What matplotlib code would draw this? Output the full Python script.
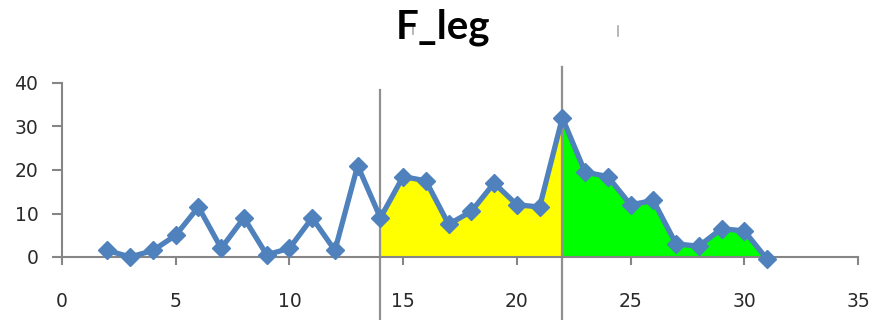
import matplotlib.pyplot as plt
from matplotlib.lines import Line2D

# force samples per frame
frames = [2, 3, 4, 5, 6, 7, 8, 9, 10, 11, 12, 13, 14, 15, 16, 17,
          18, 19, 20, 21, 22, 23, 24, 25, 26, 27, 28, 29, 30, 31]
f_leg = [1.5, 0, 1.5, 5, 11.5, 2, 9, 0.5, 2, 9, 1.5, 21, 9, 18.5, 17.5, 7.5,
         10.5, 17, 12, 11.5, 32, 19.5, 18.5, 12, 13, 3, 2.5, 6.5, 6, -0.5]

# phase boundaries (frame numbers)
phase1_start, phase2_start, phase_end = 14, 22, 31

x_ticks = [0, 5, 10, 15, 20, 25, 30, 35]
y_ticks = [0, 10, 20, 30, 40]

blue = "#4F81BD"
axis_gray = "#868686"

fig = plt.figure(figsize=(8.75, 3.2), dpi=100)
ax = fig.add_axes([62 / 875, 1 - 257 / 320, (858 - 62) / 875, 174 / 320])

i1 = frames.index(phase1_start)
i2 = frames.index(phase2_start)
i3 = frames.index(phase_end)
ax.fill_between(frames[i1:i2 + 1], f_leg[i1:i2 + 1], 0, color="#FFFF00", lw=0, zorder=1)
ax.fill_between(frames[i2:i3 + 1], f_leg[i2:i3 + 1], 0, color="#00FF00", lw=0, zorder=1)

ax.plot(frames, f_leg, color=blue, lw=3.8, marker="D", markersize=9,
        markeredgecolor=blue, clip_on=False, zorder=3)

# vertical phase markers running past the axis
ax.axvline(phase1_start, ymin=-0.37, ymax=0.96, color="#909090", lw=1.6, clip_on=False, zorder=2)
ax.axvline(phase2_start, ymin=-0.37, ymax=1.09, color="#909090", lw=1.6, clip_on=False, zorder=2)

ax.set_xlim(0, 35)
ax.set_ylim(0, 40)
ax.set_xticks(x_ticks)
ax.set_yticks(y_ticks)

for side in ("top", "right"):
    ax.spines[side].set_visible(False)
for side in ("left", "bottom"):
    ax.spines[side].set_color(axis_gray)
    ax.spines[side].set_linewidth(1.5)
    ax.spines[side].set_zorder(2)

ax.tick_params(axis="x", direction="out", length=6, width=1.5, color=axis_gray,
               pad=19, labelsize=13.5, labelcolor="#2a2a2a")
ax.tick_params(axis="y", direction="out", length=7, width=1.5, color=axis_gray,
               pad=10, labelsize=13.5, labelcolor="#2a2a2a")

fig.text(0.506, 0.915, "F_leg", ha="center", va="center", fontsize=29,
         fontweight="bold", family="Lato")

# small stray ticks near the title
for px, top, bottom in [(618, 26, 36), (413, 24, 34)]:
    fig.add_artist(Line2D([px / 875, px / 875], [1 - bottom / 320, 1 - top / 320],
                          color="#aaaaaa", lw=1.2))

fig.savefig("out.png", dpi=100)
plt.close(fig)
